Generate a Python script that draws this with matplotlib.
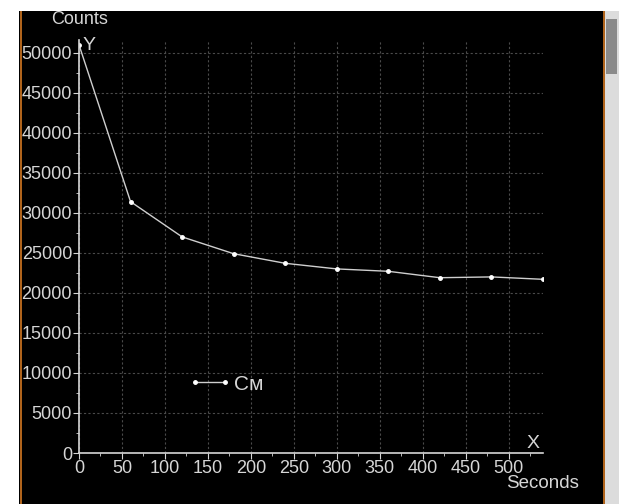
import matplotlib.pyplot as plt
from matplotlib.patches import Rectangle
from matplotlib.ticker import MultipleLocator

# data
seconds = [0, 60, 120, 180, 240, 300, 360, 420, 480, 540]
counts = [51000, 31400, 27000, 24900, 23700, 23000, 22700, 21900, 22000, 21700]
series_name = "Cм"

fg = "#d6d6d6"
plt.rcParams['font.family'] = ['Liberation Sans', 'DejaVu Sans']

fig = plt.figure(figsize=(6.19, 5.04), dpi=100)
fig.patch.set_facecolor("white")

# black window area + orange borders + scrollbar of the screenshot
def box(x, y, w, h, c, z):
    fig.patches.append(Rectangle((x/619, y/504), w/619, h/504, transform=fig.transFigure,
                                 facecolor=c, edgecolor="none", zorder=z))

box(19, 0, 586, 493, "black", -10)
box(20, 0, 2, 493, "#b0641c", -9)
box(603, 0, 2, 493, "#b0641c", -9)
box(605, 0, 14, 493, "#dcdcdc", -9)
box(606, 430, 11, 55, "#8a8a8a", -8)

ax = fig.add_axes([79/619, 51/504, 464/619, 413/504])
ax.set_facecolor("black")
ax.plot(seconds, counts, color="#cfcfcf", lw=1, marker="o", ms=2.5,
        mfc="white", mec="white", label=series_name)

ax.set_xlim(0, 540)
ax.set_ylim(0, 51600)
ax.xaxis.set_major_locator(MultipleLocator(50))
ax.xaxis.set_minor_locator(MultipleLocator(25))
ax.yaxis.set_major_locator(MultipleLocator(5000))
ax.yaxis.set_minor_locator(MultipleLocator(2500))
ax.set_xticks(range(0, 501, 50))
ax.grid(True, which="major", color="#4a4a4a", ls=(0, (2, 2)), lw=0.8)

for s in ("top", "right"):
    ax.spines[s].set_visible(False)
for s in ("left", "bottom"):
    ax.spines[s].set_color(fg)
    ax.spines[s].set_linewidth(1.2)
ax.tick_params(which="both", colors=fg, labelsize=13, pad=1)
ax.tick_params(which="major", length=4)
ax.tick_params(which="minor", length=2)

fig.text(80/619, 1 - 20/504, "Counts", color=fg, fontsize=13, ha="center", va="center")
fig.text(83/619, 1 - 46/504, "Y", color=fg, fontsize=14, ha="left", va="center")
fig.text(533/619, 1 - 443/504, "X", color=fg, fontsize=14, ha="center", va="center")
fig.text(543/619, 1 - 483/504, "Seconds", color=fg, fontsize=13.5, ha="center", va="center")

leg = ax.legend(loc="center left", bbox_to_anchor=(0.237, 0.167), frameon=False,
                fontsize=15, numpoints=2, handlelength=2.05, handletextpad=0.1,
                borderpad=0, borderaxespad=0)
for t in leg.get_texts():
    t.set_color(fg)

fig.savefig("out.png", dpi=100, facecolor=fig.get_facecolor())
